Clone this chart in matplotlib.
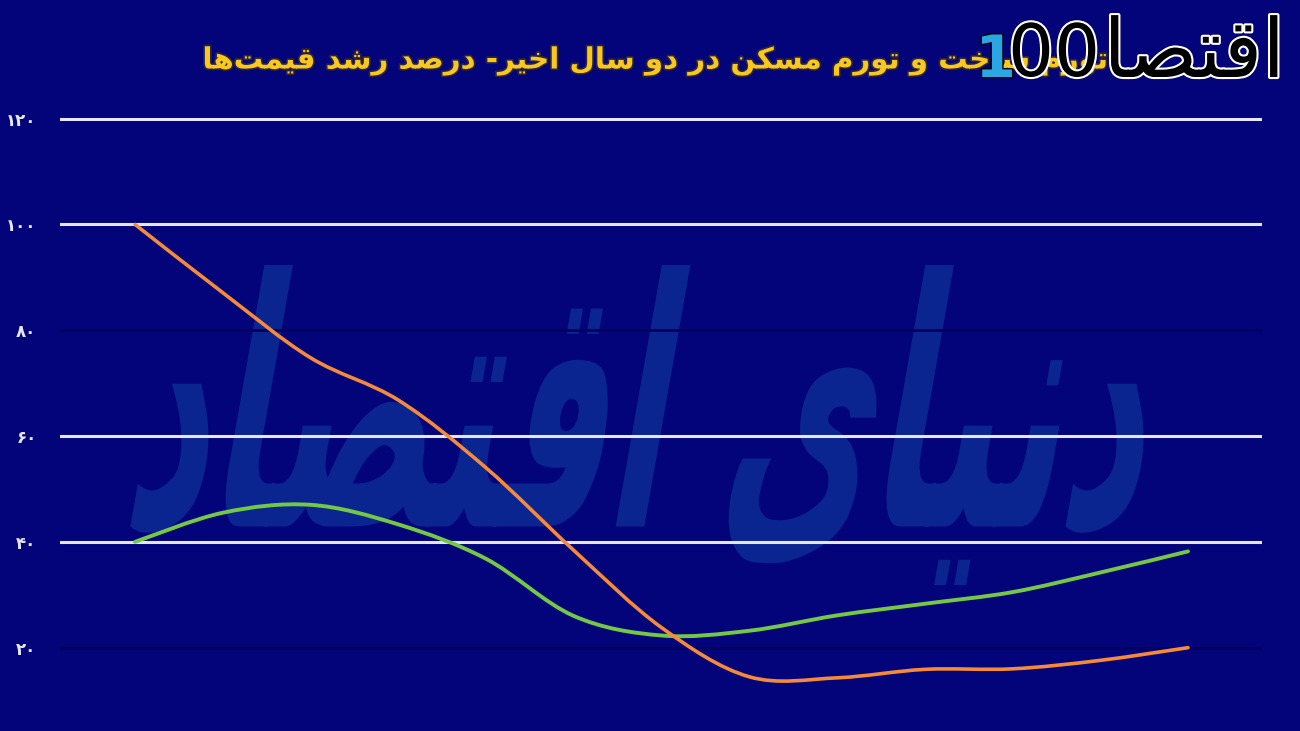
import matplotlib
matplotlib.use("Agg")
import matplotlib.pyplot as plt
import matplotlib.patheffects as pe
from matplotlib.font_manager import FontProperties
from matplotlib.path import Path
from matplotlib.patches import PathPatch
from matplotlib.textpath import TextPath
from matplotlib.transforms import Affine2D

# two years, sampled every two months
periods = list(range(13))
housing = [100, 87.1, 74.8, 66.8, 54.0, 38.4, 23.8, 14.5, 14.3, 15.9, 16.0, 17.6, 20.0]
construction = [40, 45.5, 47.0, 43.3, 36.8, 26.0, 22.3, 23.2, 26.1, 28.3, 30.5, 34.2, 38.2]
y_ticks = [20, 40, 60, 80, 100, 120]
y_labels = ["۲۰", "۴۰", "۶۰", "۸۰", "۱۰۰", "۱۲۰"]
title = "تورم ساخت و تورم مسکن در دو سال اخیر- درصد رشد قیمت‌ها"
watermark = "دنیای اقتصاد"
logo_word = "اقتصا"

BG = "#03037a"
W, H = 1300, 731

# presentation forms: isolated, final, initial, medial
FORMS = {
    "ا": ("\uFE8D", "\uFE8E", None, None),
    "ت": ("\uFE95", "\uFE96", "\uFE97", "\uFE98"),
    "خ": ("\uFEA5", "\uFEA6", "\uFEA7", "\uFEA8"),
    "د": ("\uFEA9", "\uFEAA", None, None),
    "ر": ("\uFEAD", "\uFEAE", None, None),
    "س": ("\uFEB1", "\uFEB2", "\uFEB3", "\uFEB4"),
    "ش": ("\uFEB5", "\uFEB6", "\uFEB7", "\uFEB8"),
    "ص": ("\uFEB9", "\uFEBA", "\uFEBB", "\uFEBC"),
    "ق": ("\uFED5", "\uFED6", "\uFED7", "\uFED8"),
    "ک": ("\uFED9", "\uFEDA", "\uFEDB", "\uFEDC"),
    "ل": ("\uFEDD", "\uFEDE", "\uFEDF", "\uFEE0"),
    "م": ("\uFEE1", "\uFEE2", "\uFEE3", "\uFEE4"),
    "ن": ("\uFEE5", "\uFEE6", "\uFEE7", "\uFEE8"),
    "ه": ("\uFEE9", "\uFEEA", "\uFEEB", "\uFEEC"),
    "و": ("\uFEED", "\uFEEE", None, None),
    "ی": ("\uFEEF", "\uFEF0", "\uFEF3", "\uFEF4"),
}


def shape(text):
    """Join Persian letters and reverse to visual order (matplotlib has no RTL shaping)."""
    out = []
    for i, ch in enumerate(text):
        if ch not in FORMS:
            out.append("" if ch == "\u200c" else ch)
            continue
        prev = text[i - 1] if i > 0 else ""
        nxt = text[i + 1] if i + 1 < len(text) else ""
        iso, fin, ini, med = FORMS[ch]
        join_prev = prev in FORMS and FORMS[prev][2] is not None
        join_next = nxt in FORMS and ini is not None
        if join_prev and join_next:
            out.append(med)
        elif join_prev:
            out.append(fin)
        elif join_next:
            out.append(ini)
        else:
            out.append(iso)
    return "".join(out)[::-1]


def smooth_path(xs, ys):
    # Catmull-Rom through the points, written as cubic Bezier segments
    pts = list(zip(xs, ys))
    verts = [pts[0]]
    codes = [Path.MOVETO]
    for i in range(len(pts) - 1):
        p0 = pts[i - 1] if i > 0 else pts[i]
        p1, p2 = pts[i], pts[i + 1]
        p3 = pts[i + 2] if i + 2 < len(pts) else pts[i + 1]
        c1 = (p1[0] + (p2[0] - p0[0]) / 6, p1[1] + (p2[1] - p0[1]) / 6)
        c2 = (p2[0] - (p3[0] - p1[0]) / 6, p2[1] - (p3[1] - p1[1]) / 6)
        verts += [c1, c2, p2]
        codes += [Path.CURVE4] * 3
    return Path(verts, codes)


def fit_width(txt, target_px, renderer):
    w = txt.get_window_extent(renderer).width
    txt.set_fontsize(txt.get_fontsize() * target_px / w)


plt.rcParams["font.family"] = ["DejaVu Sans"]

fig = plt.figure(figsize=(W / 100, H / 100), dpi=100, facecolor=BG)
# plot area: x 60..1262 px, y 108..690 px
ax = fig.add_axes((60 / W, 1 - 690 / H, 1202 / W, 582 / H))
ax.set_facecolor(BG)
step_px = (1188 - 135) / 12
ax.set_xlim(-(135 - 60) / step_px, 12 + (1262 - 1188) / step_px)
ax.set_ylim(12, 122)
for s in ax.spines.values():
    s.set_visible(False)
ax.set_xticks([])
ax.set_yticks(y_ticks)
ax.set_yticklabels(y_labels, fontweight="bold", color="#e6e8f5", fontsize=12)
ax.tick_params(axis="y", length=0, pad=17)

renderer = fig.canvas.get_renderer()

# watermark, stretched and slanted like the calligraphy in the original
tp = TextPath((0, 0), shape(watermark), size=100,
              prop=FontProperties(family="DejaVu Sans", weight="bold"))
ext = tp.get_extents()
wm_tr = (Affine2D().translate(-ext.x0, -ext.y0)
         .scale(1000 / ext.width, 320 / ext.height)
         .skew_deg(10, 0)
         .translate(120, H - 585))
ax.add_patch(PathPatch(tp, transform=wm_tr, facecolor="#0a2590",
                       edgecolor="none", zorder=0.5))

for v in y_ticks:
    if v in (20, 80):
        ax.axhline(v, color="#01015c", lw=2.0, zorder=1)
    else:
        ax.axhline(v, color="#e4e6ff", lw=2.2, zorder=1)

ax.add_patch(PathPatch(smooth_path(periods, construction), fill=False,
                       edgecolor="#74c845", lw=2.8, capstyle="round", zorder=3))
ax.add_patch(PathPatch(smooth_path(periods, housing), fill=False,
                       edgecolor="#f58a3a", lw=2.6, capstyle="round", zorder=4))

ttl = fig.text(655 / W, 1 - 61 / H, shape(title), ha="center", va="center",
               fontsize=22, fontweight="bold", color="#f8c81c",
               path_effects=[pe.withStroke(linewidth=2.5, foreground="#2a2240")])
fit_width(ttl, 905, renderer)

# logo, top right (drawn over the start of the title, as in the original)
outline = [pe.withStroke(linewidth=3, foreground="white")]
lg = fig.text(1285 / W, 1 - 77 / H, shape(logo_word), ha="right", va="baseline",
              fontsize=50, color="black", path_effects=outline)
fit_width(lg, 182, renderer)
zeros = fig.text(1008 / W, 1 - 76 / H, "00", ha="left", va="baseline", fontsize=46,
                 color="black", path_effects=outline)
fit_width(zeros, 92, renderer)
fig.text(1016 / W, 1 - 77 / H, "1", ha="right", va="baseline", fontsize=42,
         color="#2aa6e2", fontweight="bold",
         path_effects=[pe.withStroke(linewidth=2, foreground="black")])

fig.savefig("out.png", dpi=100, facecolor=BG)
